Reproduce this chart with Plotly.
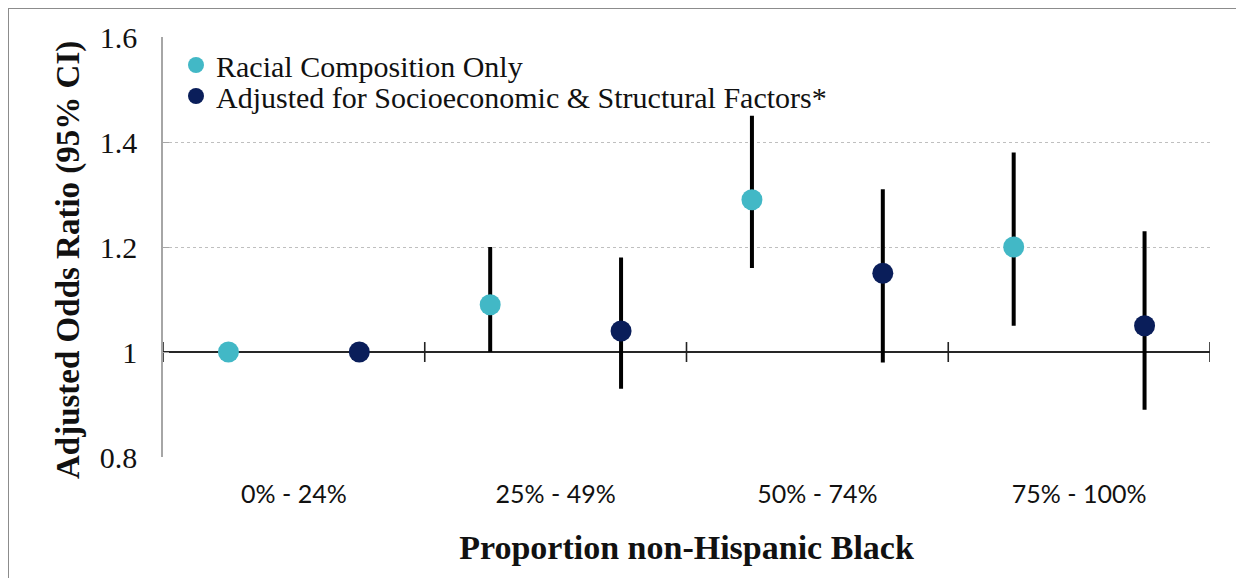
import plotly.graph_objects as go

categories = ["0% - 24%", "25% - 49%", "50% - 74%", "75% - 100%"]

racial_or = [1.00, 1.09, 1.29, 1.20]
racial_lo = [1.00, 1.00, 1.16, 1.05]
racial_hi = [1.00, 1.20, 1.45, 1.38]

adjusted_or = [1.00, 1.04, 1.15, 1.05]
adjusted_lo = [1.00, 0.93, 0.98, 0.89]
adjusted_hi = [1.00, 1.18, 1.31, 1.23]

y_ticks = [0.8, 1.0, 1.2, 1.4, 1.6]
y_tick_text = ["0.8", "1", "1.2", "1.4", "1.6"]

series_names = ["Racial Composition Only",
                "Adjusted for Socioeconomic & Structural Factors*"]

TEAL = "#42B8C6"
NAVY = "#0A1E5A"
SERIF = "Liberation Serif, DejaVu Serif, serif"
SANS = "Lato, Open Sans, sans-serif"

n = len(categories)
idx = list(range(n))
offset = 0.25

# page is drawn with an 8px body margin
W, H = 1236, 570
L, R, T, B = 155, 34, 29, 121
pw, ph = W - L - R, H - T - B
def px(xpage):
    return (xpage - 8 - L) / pw
def py(ypage):
    return 1 - (ypage - 8 - T) / ph

fig = go.Figure()

def add_series(name, vals, lo, hi, color, shift, legend):
    xs = [i + shift for i in idx]
    plus = [h - v for h, v in zip(hi, vals)]
    minus = [v - l for v, l in zip(vals, lo)]
    fig.add_trace(go.Scatter(
        x=xs, y=vals, name=name, mode="markers", legend=legend,
        marker=dict(color=color, size=21, line=dict(width=0)),
        error_y=dict(type="data", symmetric=False, array=plus, arrayminus=minus,
                     color="black", thickness=4, width=0, visible=True),
        hovertemplate="%{y:.2f}<extra>" + name + "</extra>",
    ))

add_series(series_names[0], racial_or, racial_lo, racial_hi, TEAL, -offset, "legend")
add_series(series_names[1], adjusted_or, adjusted_lo, adjusted_hi, NAVY, offset, "legend2")

shapes = []
bounds = [i - 0.5 for i in range(n + 1)]
shapes.append(dict(type="line", xref="x", yref="y", x0=bounds[0], x1=bounds[-1],
                   y0=1.0, y1=1.0, line=dict(color="#262626", width=2.2), layer="between"))
for b in bounds:
    shapes.append(dict(type="line", xref="x", yref="y", x0=b, x1=b,
                       y0=0.981, y1=1.019, line=dict(color="#222222", width=1.6), layer="between"))

# outer frame edges (top and left)
shapes.append(dict(type="line", xref="paper", yref="paper", x0=px(4), x1=px(1250),
                   y0=py(8), y1=py(8), line=dict(color="#8C8C8C", width=2)))
shapes.append(dict(type="line", xref="paper", yref="paper", x0=px(8), x1=px(8),
                   y0=py(8), y1=py(590), line=dict(color="#8C8C8C", width=2)))

legend_common = dict(xanchor="left", yanchor="middle", bgcolor="rgba(0,0,0,0)",
                     font=dict(family=SERIF, size=30, color="#111111"),
                     itemsizing="trace")

annotations = [
    dict(text="<b>Adjusted Odds Ratio (95% CI)</b>", textangle=-90,
         xref="paper", yref="paper", x=px(68), y=py(260),
         xanchor="center", yanchor="middle", showarrow=False,
         font=dict(family=SERIF, size=33, color="#111111")),
]

fig.update_layout(
    width=W, height=H,
    margin=dict(l=L, r=R, t=T, b=B, autoexpand=False),
    paper_bgcolor="white", plot_bgcolor="white",
    shapes=shapes,
    annotations=annotations,
    showlegend=True,
    legend=dict(x=px(176), y=py(65), **legend_common),
    legend2=dict(x=px(176), y=py(96), **legend_common),
    xaxis=dict(range=[bounds[0], bounds[-1]], tickmode="array", tickvals=idx,
               ticktext=categories, showgrid=False, zeroline=False, showline=False,
               ticks="", tickfont=dict(family=SANS, size=25, color="#111111"),
               ticklabelstandoff=20,
               title=dict(text="<b>Proportion non-Hispanic Black</b>",
                          font=dict(family=SERIF, size=34, color="#111111"), standoff=28)),
    yaxis=dict(range=[0.8, 1.6], tickmode="array", tickvals=y_ticks, ticktext=y_tick_text,
               showgrid=True, gridcolor="#BFBFBF", griddash="dot", gridwidth=1,
               zeroline=False, showline=True, linecolor="#A6A6A6", linewidth=1.5,
               ticks="inside", ticklen=6, tickcolor="#A6A6A6",
               tickfont=dict(family=SERIF, size=30, color="#111111"),
               ticklabelstandoff=18),
)

fig.write_html("out.html")
